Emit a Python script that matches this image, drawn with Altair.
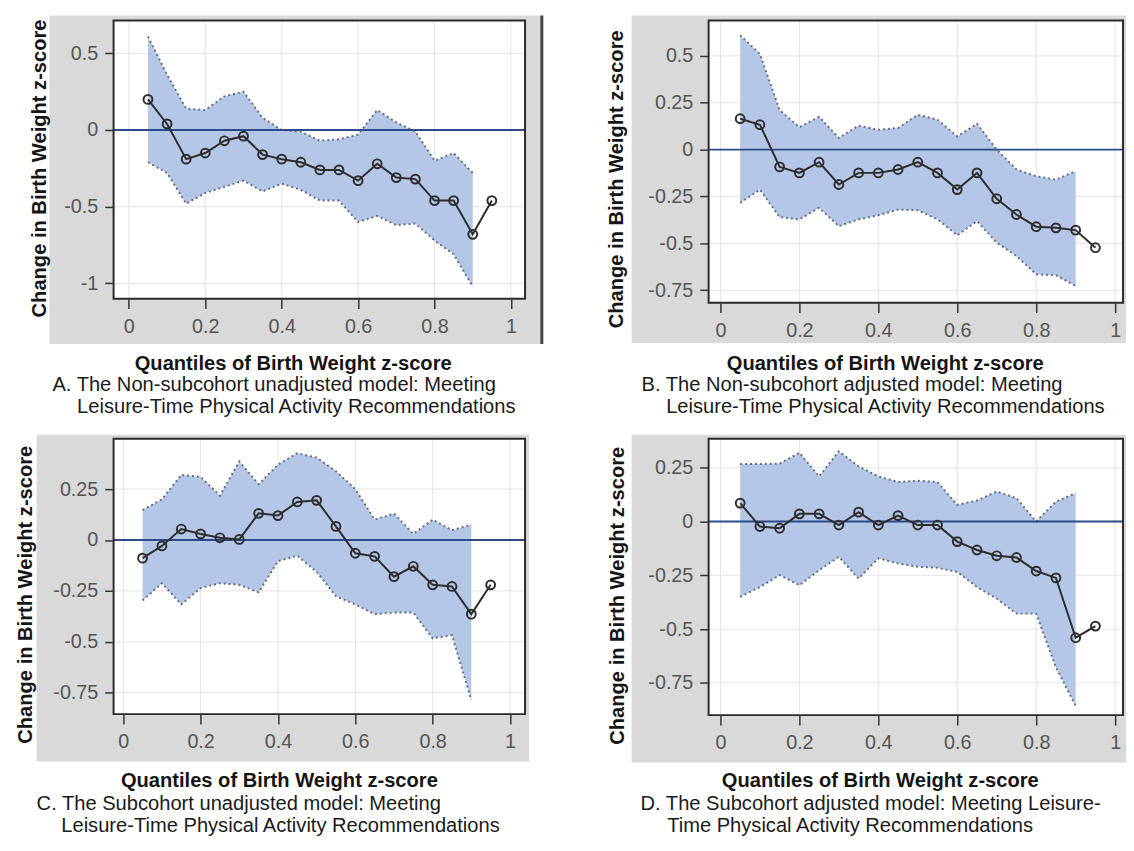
import altair as alt
import pandas as pd

FONT = "Liberation Sans, Arial, Helvetica, sans-serif"

# ---------------- data ----------------
Q = [0.05, 0.10, 0.15, 0.20, 0.25, 0.30, 0.35, 0.40, 0.45, 0.50,
     0.55, 0.60, 0.65, 0.70, 0.75, 0.80, 0.85, 0.90, 0.95]
QB = [0.05, 0.10, 0.15, 0.20, 0.25, 0.30, 0.35, 0.40, 0.45, 0.50,
      0.55, 0.60, 0.65, 0.70, 0.75, 0.80, 0.85, 0.90]
X_TICKS = [0, 0.2, 0.4, 0.6, 0.8, 1]

A_est = [0.20, 0.04, -0.19, -0.15, -0.07, -0.04, -0.16, -0.19, -0.21, -0.26,
         -0.26, -0.33, -0.22, -0.31, -0.32, -0.46, -0.46, -0.68, -0.46]
A_hi = [0.61, 0.36, 0.14, 0.13, 0.22, 0.25, 0.08, 0.00, -0.01, -0.07,
        -0.06, -0.03, 0.13, 0.05, -0.01, -0.20, -0.15, -0.28]
A_lo = [-0.21, -0.28, -0.48, -0.41, -0.37, -0.33, -0.40, -0.35, -0.39, -0.46,
        -0.46, -0.60, -0.56, -0.62, -0.61, -0.72, -0.81, -1.02]

B_est = [0.165, 0.133, -0.092, -0.124, -0.067, -0.186, -0.124, -0.124, -0.106, -0.067,
         -0.124, -0.213, -0.124, -0.262, -0.346, -0.411, -0.417, -0.429, -0.523]
B_hi = [0.61, 0.51, 0.21, 0.12, 0.175, 0.062, 0.128, 0.106, 0.115, 0.186,
        0.16, 0.07, 0.138, 0.0, -0.106, -0.142, -0.16, -0.115]
B_lo = [-0.284, -0.213, -0.36, -0.372, -0.31, -0.408, -0.372, -0.35, -0.32, -0.323,
        -0.372, -0.457, -0.381, -0.496, -0.567, -0.665, -0.67, -0.727]

C_est = [-0.089, -0.029, 0.054, 0.030, 0.011, 0.003, 0.131, 0.12, 0.187, 0.195,
         0.067, -0.065, -0.08, -0.18, -0.129, -0.22, -0.228, -0.364, -0.22]
C_hi = [0.147, 0.20, 0.32, 0.31, 0.218, 0.386, 0.274, 0.37, 0.426, 0.405,
        0.338, 0.25, 0.10, 0.13, 0.03, 0.10, 0.048, 0.075]
C_lo = [-0.297, -0.212, -0.316, -0.236, -0.212, -0.22, -0.257, -0.104, -0.077, -0.156,
        -0.276, -0.316, -0.364, -0.356, -0.356, -0.483, -0.467, -0.786]

D_est = [0.086, -0.023, -0.031, 0.036, 0.036, -0.016, 0.044, -0.016, 0.028, -0.016,
         -0.016, -0.093, -0.132, -0.159, -0.167, -0.23, -0.262, -0.54, -0.486]
D_hi = [0.268, 0.268, 0.27, 0.32, 0.21, 0.327, 0.257, 0.21, 0.184, 0.19,
        0.184, 0.078, 0.098, 0.14, 0.109, 0.0, 0.093, 0.132]
D_lo = [-0.35, -0.304, -0.249, -0.296, -0.226, -0.164, -0.265, -0.171, -0.195, -0.21,
        -0.215, -0.234, -0.304, -0.358, -0.428, -0.428, -0.678, -0.857]

A_yt = [0.5, 0, -0.5, -1]
B_yt = [0.5, 0.25, 0, -0.25, -0.5, -0.75]
C_yt = [0.25, 0, -0.25, -0.5, -0.75]
D_yt = [0.25, 0, -0.25, -0.5, -0.75]

YLABEL = "Change in Birth Weight z-score"
XLABEL = "Quantiles of Birth Weight z-score"
CAP_A = ["A. The Non-subcohort unadjusted model: Meeting",
         "Leisure-Time Physical Activity Recommendations"]
CAP_B = ["B. The Non-subcohort adjusted model: Meeting",
         "Leisure-Time Physical Activity Recommendations"]
CAP_C = ["C. The Subcohort unadjusted model: Meeting",
         "Leisure-Time Physical Activity Recommendations"]
CAP_D = ["D. The Subcohort adjusted model: Meeting Leisure-",
         "Time Physical Activity Recommendations"]

GRAY = "#d9d9d9"
BAND = "#b4c7e7"
BAND_EDGE = "#5f6f86"
ZERO = "#2b4a8a"
INK = "#2d2d2d"
FS = 20.4


def one(text=""):
    return pd.DataFrame({"t": [text]})


def panel(est, lo, hi, xdom, ydom, yt, w, h, g, cap, darkline=None):
    xs = alt.Scale(domain=xdom, nice=False, zero=False)
    ys = alt.Scale(domain=ydom, nice=False, zero=False)
    common = dict(title=None, grid=False, domain=False, tickWidth=1.5,
                  tickColor="#333333", labelFont=FONT, labelFontSize=20,
                  labelColor="#555555", labelExpr="toString(datum.value)",
                  labelOverlap=False, labelFlush=False, zindex=1)
    xax = alt.Axis(values=X_TICKS, tickSize=10, labelPadding=8, **common)
    yax = alt.Axis(values=yt, tickSize=9, labelPadding=7, **common)

    df = pd.DataFrame({"q": Q, "est": est})
    band = pd.DataFrame({"q": QB, "lo": lo, "hi": hi})

    L = []
    # cell spacer (white, defines layout bounds)
    L.append(alt.Chart(one()).mark_rect(color="white").encode(
        x=alt.value(g["sx"][0]), x2=alt.value(g["sx"][1]),
        y=alt.value(g["sy"][0]), y2=alt.value(g["sy"][1])))
    # gray panel background
    L.append(alt.Chart(one()).mark_rect(color=GRAY).encode(
        x=alt.value(g["gx"][0]), x2=alt.value(g["gx"][1]),
        y=alt.value(g["gy"][0]), y2=alt.value(g["gy"][1])))
    # white plot area
    L.append(alt.Chart(one()).mark_rect(color="white").encode(
        x=alt.value(0), x2=alt.value(w), y=alt.value(0), y2=alt.value(h)))
    # grid
    L.append(alt.Chart(pd.DataFrame({"v": X_TICKS})).mark_rule(
        color="#e4e4e4", strokeWidth=1).encode(
        x=alt.X("v:Q", scale=xs, axis=xax)))
    L.append(alt.Chart(pd.DataFrame({"v": yt})).mark_rule(
        color="#e4e4e4", strokeWidth=1).encode(
        y=alt.Y("v:Q", scale=ys, axis=yax)))
    # confidence band
    L.append(alt.Chart(band).mark_area(color=BAND, opacity=1).encode(
        x=alt.X("q:Q", scale=xs, axis=xax),
        y=alt.Y("lo:Q", scale=ys, axis=yax), y2="hi:Q"))
    for col in ["hi", "lo"]:
        L.append(alt.Chart(band).mark_line(
            color=BAND_EDGE, strokeWidth=2, strokeDash=[2, 3]).encode(
            x=alt.X("q:Q", scale=xs, axis=xax),
            y=alt.Y(f"{col}:Q", scale=ys, axis=yax)))
    # zero reference line
    L.append(alt.Chart(pd.DataFrame({"z": [0]})).mark_rule(
        color=ZERO, strokeWidth=2).encode(
        y=alt.Y("z:Q", scale=ys, axis=yax)))
    # estimates
    L.append(alt.Chart(df).mark_line(color=INK, strokeWidth=2).encode(
        x=alt.X("q:Q", scale=xs, axis=xax),
        y=alt.Y("est:Q", scale=ys, axis=yax)))
    L.append(alt.Chart(df).mark_point(
        shape="circle", filled=False, color=INK, size=80, strokeWidth=2,
        opacity=1).encode(
        x=alt.X("q:Q", scale=xs, axis=xax),
        y=alt.Y("est:Q", scale=ys, axis=yax)))
    # frame
    L.append(alt.Chart(one()).mark_rect(
        fillOpacity=0, stroke="#2a2a2a", strokeWidth=2).encode(
        x=alt.value(0), x2=alt.value(w), y=alt.value(0), y2=alt.value(h)))
    if darkline is not None:
        L.append(alt.Chart(one()).mark_rule(color="#444444", strokeWidth=3).encode(
            x=alt.value(darkline[0]), y=alt.value(darkline[1]),
            y2=alt.value(darkline[2])))
    # texts
    L.append(alt.Chart(one(YLABEL)).mark_text(
        font=FONT, fontSize=FS, fontWeight="bold", angle=270, align="center",
        baseline="alphabetic", color="#151515").encode(
        x=alt.value(g["yl"][0]), y=alt.value(g["yl"][1]), text="t:N"))
    L.append(alt.Chart(one(XLABEL)).mark_text(
        font=FONT, fontSize=FS, fontWeight="bold", align="center",
        baseline="alphabetic", color="#151515").encode(
        x=alt.value(g["xt"][0]), y=alt.value(g["xt"][1]), text="t:N"))
    L.append(alt.Chart(one(cap[0])).mark_text(
        font=FONT, fontSize=FS, align="left", baseline="alphabetic",
        color="#1a1a1a").encode(
        x=alt.value(g["c1"][0]), y=alt.value(g["c1"][1]), text="t:N"))
    L.append(alt.Chart(one(cap[1])).mark_text(
        font=FONT, fontSize=FS, align="left", baseline="alphabetic",
        color="#1a1a1a").encode(
        x=alt.value(g["c2"][0]), y=alt.value(g["c2"][1]), text="t:N"))
    return alt.layer(*L).properties(width=w, height=h)


gA = dict(sx=(-92, 436), sy=(-5, 403), gx=(-65, 433), gy=(-5, 328),
          yl=(-68, 150), xt=(182, 354), c1=(-62, 376), c2=(-37, 398))
gB = dict(sx=(-105, 423), sy=(-5, 403), gx=(-78, 423), gy=(-5, 327),
          yl=(-86.5, 161), xt=(179, 354), c1=(-68, 376), c2=(-43, 398))
gC = dict(sx=(-107, 421), sy=(-4, 404), gx=(-78, 421), gy=(-4, 327),
          yl=(-83, 158), xt=(168, 353), c1=(-78, 376), c2=(-53, 398))
gD = dict(sx=(-105, 423), sy=(-4, 404), gx=(-78, 423), gy=(-4, 328),
          yl=(-86, 159), xt=(174, 353), c1=(-69, 376), c2=(-42, 398))

pA = panel(A_est, A_lo, A_hi, [-0.04, 1.037], [-1.1, 0.715], A_yt, 417, 282, gA,
           CAP_A, darkline=(434, -5, 328))
pB = panel(B_est, B_lo, B_hi, [-0.03, 1.02], [-0.816, 0.689], B_yt, 420, 286, gB, CAP_B)
pC = panel(C_est, C_lo, C_hi, [-0.025, 1.039], [-0.855, 0.497], C_yt, 417, 279, gC, CAP_C)
pD = panel(D_est, D_lo, D_hi, [-0.03, 1.02], [-0.9, 0.385], D_yt, 420, 280, gD, CAP_D)

chart = alt.concat(pA, pB, pC, pD, columns=2, spacing={"row": 17, "column": 62},
                   bounds="full", align="none").properties(
    padding={"left": 0, "top": 0, "right": 0, "bottom": 0},
    background="white").configure_view(strokeWidth=0)

chart.save("out.html", embed_options={"renderer": "svg", "actions": False})
